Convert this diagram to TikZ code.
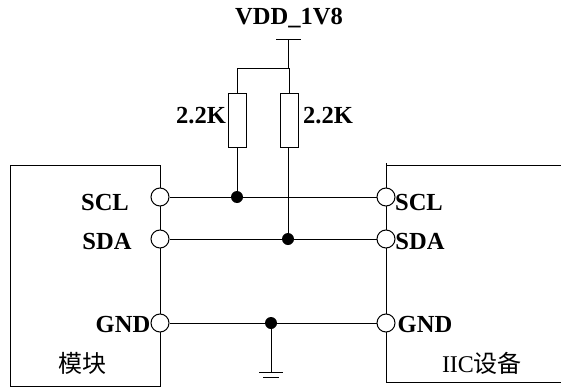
\documentclass[tikz,border=0pt]{standalone}
\usepackage{fontspec}
\setmainfont{Liberation Serif}
\newfontfamily\cjk{Noto Sans CJK SC}

\begin{document}
\begin{tikzpicture}[x=0.75pt,y=0.75pt]
        \tikzset{
            res/.style={
                draw,
                fill=white,
                line width=0.75pt,
                minimum width=13.5pt,
                minimum height=40.5pt,
                inner sep=0pt
            },
            pin/.style={
                draw,
                circle,
                fill=white,
                line width=0.75pt,
                minimum size=13.5pt,
                inner sep=0pt
            },
            dot/.style={
                circle,
                fill=black,
                minimum size=9pt,
                inner sep=0pt
            },
            lab/.style={
                anchor=base,
                inner sep=0pt,
                font=\fontsize{18.4}{20}\selectfont\bfseries
            },
            txt/.style={
                anchor=base,
                inner sep=0pt,
                font=\fontsize{18}{20}\selectfont
            }
        }
        \useasboundingbox (0,0) rectangle (561,387);

        % MODULOS
        \draw[line width=0.75pt] (10,1) rectangle (160,222);
        \draw[line width=0.75pt] (561,222) -- (386,222);
        \draw[line width=0.75pt] (386,224) -- (386,5) -- (561,5);

        \coordinate (vdd) at (288,348);
        \coordinate (branch) at (288,319);
        \coordinate (branchL) at (237,319);
        \coordinate (gnd) at (271,15);

        \node[res] (resL) at (237,267) {};
        \node[res] (resR) at (289,267) {};

        \node[dot] (dotSCL) at (237,190) {};
        \node[dot] (dotSDA) at (288,148) {};
        \node[dot] (dotGND) at (271,64) {};

        \foreach \nome/\y in {SCL/190,SDA/148,GND/64} {
            \node[pin] (pinL\nome) at (160,\y) {};
            \node[pin] (pinR\nome) at (386,\y) {};
            \draw[line width=0.75pt] (pinL\nome) -- (dot\nome) -- (pinR\nome);
        }

        % ALIMENTACAO
        \draw[line width=0.75pt] ([xshift=-9pt]vdd) -- ([xshift=10pt]vdd);
        \draw[line width=0.75pt] (vdd) -- (branch) -- (branch -| resR.north) -- (resR.north);
        \draw[line width=0.75pt] (branch) -- (branchL) -- (resL.north);
        \draw[line width=0.75pt] (resL.south) -- (dotSCL);
        \draw[line width=0.75pt] (resR.south -| dotSDA) -- (dotSDA);

        % TERRA
        \draw[line width=0.75pt] (dotGND) -- (gnd);
        \draw[line width=0.75pt] ([xshift=-9pt]gnd) -- ([xshift=9pt]gnd);
        \draw[line width=0.75pt] ([xshift=-6pt,yshift=-3.75pt]gnd) -- ([xshift=6pt,yshift=-3.75pt]gnd);

        \node[lab] (lbVDD) at (289,363) {VDD\_1V8};
        \node[lab] (lbResL) at (201,264) {2.2K};
        \node[lab] (lbResR) at (328,264) {2.2K};

        \node[lab] (lbSCL) at (105,177) {SCL};
        \node[lab] (lbSDA) at (107,138) {SDA};
        \node[lab] (lbGND) at (123,55) {GND};
        \node[lab] (lbSCLb) at (419,177) {SCL};
        \node[lab] (lbSDAb) at (420,138) {SDA};
        \node[lab] (lbGNDb) at (425,55) {GND};

        \node[txt] (lbMod) at (82,15) {\cjk 模块};
        \node[txt] (lbDev) at (482,15) {IIC{\cjk 设备}};

    \end{tikzpicture}
\end{document}
